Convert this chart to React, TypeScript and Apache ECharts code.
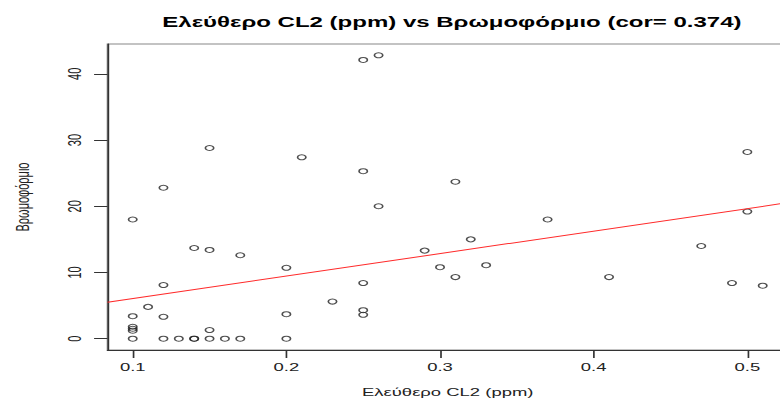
import React, { useEffect, useRef } from "react";
import * as echarts from "echarts";

const titleText = "Ελεύθερο CL2 (ppm) vs Βρωμοφόρμιο (cor= 0.374)";
const xName = "Ελεύθερο CL2 (ppm)";
const yName = "Βρωμοφόρμιο";

const chlorine = [
  0.1, 0.1, 0.1, 0.1, 0.1, 0.1,
  0.11,
  0.12, 0.12, 0.12, 0.12,
  0.13,
  0.14, 0.14, 0.14,
  0.15, 0.15, 0.15, 0.15,
  0.16,
  0.17, 0.17,
  0.2, 0.2, 0.2,
  0.21,
  0.23,
  0.25, 0.25, 0.25, 0.25, 0.25,
  0.26, 0.26,
  0.29,
  0.3,
  0.31, 0.31,
  0.32,
  0.33,
  0.37,
  0.41,
  0.47,
  0.49,
  0.5, 0.5,
  0.51,
];
const bromoform = [
  18, 3.4, 1.8, 1.5, 1.2, 0,
  4.8,
  22.8, 8.1, 3.3, 0,
  0,
  13.7, 0, 0,
  28.8, 13.4, 1.3, 0,
  0,
  12.6, 0,
  10.7, 3.7, 0,
  27.4,
  5.6,
  42.1, 25.3, 8.4, 4.3, 3.6,
  42.8, 20.0,
  13.3,
  10.8,
  23.7, 9.3,
  15.0,
  11.1,
  18.0,
  9.3,
  14.0,
  8.4,
  28.2, 19.2,
  8.0,
];

const xTicks = [0.1, 0.2, 0.3, 0.4, 0.5];
const yTicks = [0, 10, 20, 30, 40];
const xRange = [0.0836, 0.5264];
const yRange = [-1.712, 44.512];
const fitCoef = [2.65, 34]; // intercept, slope of the red regression line

const STRETCH = 1.68;
const INNER_W = 470;
const H = 403;

export default function App() {
  const ref = useRef<HTMLDivElement>(null);
  useEffect(() => {
    const chart = echarts.init(ref.current!, null, { renderer: "svg" });
    const font = "'Liberation Sans', Arial, Helvetica, sans-serif";
    const points = chlorine.map((x, i) => [x, bromoform[i]]);
    const fitLine = xRange.map((x) => [x, fitCoef[0] + fitCoef[1] * x]);
    chart.setOption({
      animation: false,
      backgroundColor: "#ffffff",
      textStyle: { fontFamily: font },
      title: {
        text: titleText,
        left: 264,
        textAlign: "center",
        top: 10,
        textStyle: { fontSize: 14.3, fontWeight: "bold", color: "#000", fontFamily: font },
      },
      grid: {
        left: 60.1,
        right: 1,
        top: 44,
        bottom: 48.2,
        show: true,
        borderColor: "#888",
        borderWidth: 1,
        containLabel: false,
      },
      xAxis: {
        type: "value",
        min: xRange[0],
        max: xRange[1],
        name: xName,
        nameLocation: "middle",
        nameGap: 37,
        nameTextStyle: { fontSize: 11, color: "#222", fontFamily: font },
        axisLine: { show: true, onZero: false, lineStyle: { color: "#333", width: 1 } },
        axisTick: { show: true, length: 8, customValues: xTicks, lineStyle: { color: "#333" } },
        axisLabel: {
          customValues: xTicks,
          formatter: (v: number) => v.toFixed(1),
          fontSize: 11,
          color: "#222",
          margin: 12,
          fontFamily: font,
        },
        splitLine: { show: false },
      },
      yAxis: {
        type: "value",
        min: yRange[0],
        max: yRange[1],
        name: yName,
        nameLocation: "middle",
        nameGap: 45,
        nameRotate: 90,
        nameTextStyle: { fontSize: 11, color: "#222", fontFamily: font },
        axisLine: { show: true, onZero: false, lineStyle: { color: "#333", width: 1 } },
        axisTick: { show: true, length: 8, customValues: yTicks, lineStyle: { color: "#333" } },
        axisLabel: {
          customValues: yTicks,
          rotate: 90,
          fontSize: 11,
          color: "#222",
          margin: 14,
          fontFamily: font,
        },
        splitLine: { show: false },
      },
      series: [
        {
          type: "scatter",
          data: points,
          symbol: "circle",
          symbolSize: 5,
          silent: true,
          itemStyle: { color: "rgba(0,0,0,0)", borderColor: "#222", borderWidth: 1 },
        },
        {
          type: "line",
          data: fitLine,
          showSymbol: false,
          silent: true,
          lineStyle: { color: "#ff2a2a", width: 1 },
        },
      ],
    });
    return () => chart.dispose();
  }, []);
  return (
    <div
      style={{
        position: "fixed",
        left: 0,
        top: 0,
        width: 780,
        height: H,
        overflow: "hidden",
        background: "#fff",
      }}
    >
      <div
        ref={ref}
        style={{
          width: INNER_W,
          height: H,
          transform: `scaleX(${STRETCH})`,
          transformOrigin: "0 0",
        }}
      />
    </div>
  );
}
